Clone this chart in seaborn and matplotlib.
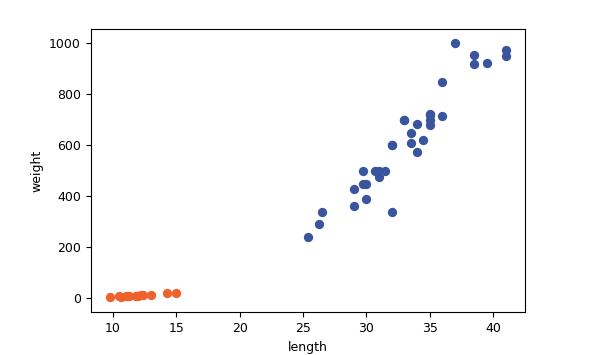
import matplotlib
matplotlib.use('Agg')
import matplotlib.pyplot as plt
import seaborn as sns
import pandas as pd

# ── data ────────────────────────────────────────────────
bream_length = [25.4, 26.3, 26.5, 29.0, 29.0, 29.7, 29.7, 30.0, 30.0, 30.7,
                31.0, 31.0, 31.5, 32.0, 32.0, 32.0, 33.0, 33.0, 33.5, 33.5,
                34.0, 34.0, 34.5, 35.0, 35.0, 35.0, 35.0, 36.0, 36.0, 37.0,
                38.5, 38.5, 39.5, 41.0, 41.0]
bream_weight = [242.0, 290.0, 340.0, 363.0, 430.0, 450.0, 500.0, 390.0, 450.0, 500.0,
                475.0, 500.0, 500.0, 340.0, 600.0, 600.0, 700.0, 700.0, 610.0, 650.0,
                575.0, 685.0, 620.0, 680.0, 700.0, 725.0, 720.0, 714.0, 850.0, 1000.0,
                920.0, 955.0, 925.0, 975.0, 950.0]
smelt_length = [9.8, 10.5, 10.6, 11.0, 11.2, 11.3, 11.8, 11.8, 12.0, 12.2,
                12.4, 13.0, 14.3, 15.0]
smelt_weight = [6.7, 7.5, 7.0, 9.7, 9.8, 8.7, 10.0, 9.9, 9.8, 12.2,
                13.4, 12.2, 19.7, 19.9]

bream = pd.DataFrame({"length": bream_length, "weight": bream_weight})
smelt = pd.DataFrame({"length": smelt_length, "weight": smelt_weight})

plt.rcParams['font.size'] = 9

fig = plt.figure(figsize=(6.04, 3.55), dpi=100)
ax = fig.add_axes([0.150, 0.120, 0.720, 0.797])

sns.scatterplot(data=bream, x="length", y="weight", color="#3a549e",
                s=45, linewidth=0, ax=ax)
sns.scatterplot(data=smelt, x="length", y="weight", color="#f0622d",
                s=45, linewidth=0, ax=ax)

ax.set_ylim(-55, 1055)
ax.set_xlabel("length")
ax.set_ylabel("weight")

fig.savefig("out.png", dpi=100)
plt.close(fig)
